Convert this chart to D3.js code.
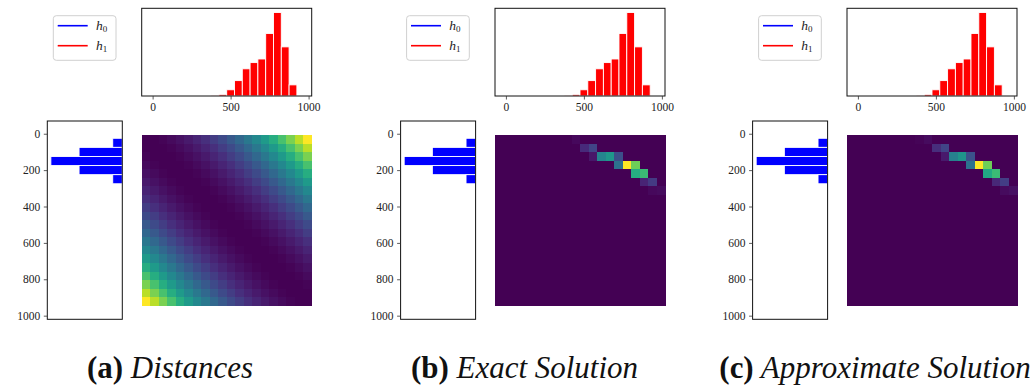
<!DOCTYPE html>
<html>
<head>
<meta charset="utf-8">
<script src="https://cdn.jsdelivr.net/npm/d3@7"></script>
<style>
  body { margin: 0; background: #fff; }
  text { font-family: "Liberation Serif", serif; }
</style>
</head>
<body>
<script>
// bin positions shared by both histograms and the matrices
const bins = [0,50,100,150,200,250,300,350,400,450,500,550,600,650,700,750,800,850,900,950];
// source histogram h0 (blue, left) and target histogram h1 (red, top)
const h0 = [0,0.054,0.244,0.403,0.244,0.054,0,0,0,0,0,0,0,0,0,0,0,0,0,0];
const h1 = [0,0,0,0,0,0,0,0,0.001,0.005,0.019,0.047,0.083,0.102,0.113,0.191,0.255,0.150,0.034,0];
const histTicks = [0,500,1000];
const leftTicks = [0,200,400,600,800,1000];

// (a) squared distances between bins
const distances = [
  [0,1,4,9,16,25,36,49,64,81,100,121,144,169,196,225,256,289,324,361],
  [1,0,1,4,9,16,25,36,49,64,81,100,121,144,169,196,225,256,289,324],
  [4,1,0,1,4,9,16,25,36,49,64,81,100,121,144,169,196,225,256,289],
  [9,4,1,0,1,4,9,16,25,36,49,64,81,100,121,144,169,196,225,256],
  [16,9,4,1,0,1,4,9,16,25,36,49,64,81,100,121,144,169,196,225],
  [25,16,9,4,1,0,1,4,9,16,25,36,49,64,81,100,121,144,169,196],
  [36,25,16,9,4,1,0,1,4,9,16,25,36,49,64,81,100,121,144,169],
  [49,36,25,16,9,4,1,0,1,4,9,16,25,36,49,64,81,100,121,144],
  [64,49,36,25,16,9,4,1,0,1,4,9,16,25,36,49,64,81,100,121],
  [81,64,49,36,25,16,9,4,1,0,1,4,9,16,25,36,49,64,81,100],
  [100,81,64,49,36,25,16,9,4,1,0,1,4,9,16,25,36,49,64,81],
  [121,100,81,64,49,36,25,16,9,4,1,0,1,4,9,16,25,36,49,64],
  [144,121,100,81,64,49,36,25,16,9,4,1,0,1,4,9,16,25,36,49],
  [169,144,121,100,81,64,49,36,25,16,9,4,1,0,1,4,9,16,25,36],
  [196,169,144,121,100,81,64,49,36,25,16,9,4,1,0,1,4,9,16,25],
  [225,196,169,144,121,100,81,64,49,36,25,16,9,4,1,0,1,4,9,16],
  [256,225,196,169,144,121,100,81,64,49,36,25,16,9,4,1,0,1,4,9],
  [289,256,225,196,169,144,121,100,81,64,49,36,25,16,9,4,1,0,1,4],
  [324,289,256,225,196,169,144,121,100,81,64,49,36,25,16,9,4,1,0,1],
  [361,324,289,256,225,196,169,144,121,100,81,64,49,36,25,16,9,4,1,0]
];
// (b) and (c) transport plans, nonzero cells only: [row, col, value]
const exactPlan = [
  [0,9,0.02],[1,10,0.12],[1,11,0.2],[2,11,0.06],[2,12,0.45],[2,13,0.53],[2,14,0.24],
  [3,14,0.37],[3,15,1],[3,16,0.78],[4,16,0.62],[4,17,0.68],[5,17,0.1],[5,18,0.17],
  [6,18,0.02],[6,19,0.03]
];
const approxPlan = [
  [0,8,0.01],[0,9,0.03],[1,10,0.13],[1,11,0.2],[2,11,0.07],[2,12,0.43],[2,13,0.52],[2,14,0.25],
  [3,14,0.37],[3,15,1],[3,16,0.78],[4,16,0.6],[4,17,0.68],[5,17,0.11],[5,18,0.18],
  [6,18,0.03],[6,19,0.04]
];
const captions = [["(a)","Distances"],["(b)","Exact Solution"],["(c)","Approximate Solution"]];

function toMatrix(cells){
  let m = bins.map(()=>bins.map(()=>0));
  cells.forEach(c=>{ m[c[0]][c[1]] = c[2]; });
  return m;
}

const svg = d3.select("body").append("svg").attr("width",1034).attr("height",389);

function panel(dx, matrix, caption){
  let g = svg.append("g");

  // top histogram (h1)
  let xT = d3.scaleLinear().domain([-70,1020]).range([141.7+dx, 311.7+dx]);
  let yT = d3.scaleLinear().domain([0, d3.max(h1)*1.05]).range([96, 8.3]);
  g.selectAll(".tb").data(h1).enter().append("rect")
    .attr("x",(d,i)=>xT(bins[i]-25))
    .attr("width",(d,i)=>xT(bins[i]+25)-xT(bins[i]-25))
    .attr("y",d=>yT(d))
    .attr("height",d=>yT(0)-yT(d))
    .attr("fill","red").attr("stroke","white").attr("stroke-width",0.9);
  g.append("rect").attr("x",141.7+dx).attr("y",8.3).attr("width",170).attr("height",87.7)
    .attr("fill","none").attr("stroke","#111").attr("stroke-width",1);
  let ax = g.append("g").attr("transform","translate(0,96)")
    .call(d3.axisBottom(xT).tickValues(histTicks).tickFormat(d3.format("d"))
      .tickSize(3.5).tickPadding(3.5).tickSizeOuter(0));
  ax.select(".domain").remove();

  // left histogram (h0), bars grow to the left
  let yL = d3.scaleLinear().domain([-70,1020]).range([121, 319.3]);
  let xL = d3.scaleLinear().domain([0, d3.max(h0)*1.05]).range([122.3+dx, 47.3+dx]);
  g.selectAll(".lb").data(h0).enter().append("rect")
    .attr("y",(d,i)=>yL(bins[i]-25))
    .attr("height",(d,i)=>yL(bins[i]+25)-yL(bins[i]-25))
    .attr("x",d=>xL(d))
    .attr("width",d=>xL(0)-xL(d))
    .attr("fill","blue").attr("stroke","white").attr("stroke-width",0.9);
  g.append("rect").attr("x",47.3+dx).attr("y",121).attr("width",75).attr("height",198.3)
    .attr("fill","none").attr("stroke","#111").attr("stroke-width",1);
  let ay = g.append("g").attr("transform","translate("+(47.3+dx)+",0)")
    .call(d3.axisLeft(yL).tickValues(leftTicks).tickFormat(d3.format("d"))
      .tickSize(3.5).tickPadding(3.5).tickSizeOuter(0));
  ay.select(".domain").remove();

  [ax, ay].forEach(a=>{
    a.selectAll("text").attr("font-family","Liberation Serif").attr("font-size",11.5).attr("fill","#222");
    a.selectAll("line").attr("stroke","#333").attr("stroke-width",0.8);
  });

  // legend
  let lg = g.append("g");
  lg.append("rect").attr("x",53.3+dx).attr("y",15.7).attr("width",62.7).attr("height",44.6)
    .attr("rx",3).attr("fill","white").attr("stroke","#d0d0d0").attr("stroke-width",1);
  [["blue","0",25.7],["red","1",45.7]].forEach(e=>{
    lg.append("line").attr("x1",57.7+dx).attr("x2",87.7+dx).attr("y1",e[2]).attr("y2",e[2])
      .attr("stroke",e[0]).attr("stroke-width",1.6);
    let t = lg.append("text").attr("x",96+dx).attr("y",e[2]+4).attr("font-size",13.5).attr("fill","#222");
    t.append("tspan").attr("font-style","italic").text("h");
    t.append("tspan").attr("font-size",9).attr("dy",2.5).text(e[1]);
  });

  // matrix image
  let xH = d3.scaleBand().domain(d3.range(20)).range([141.7+dx, 311.7+dx]);
  let yH = d3.scaleBand().domain(d3.range(20)).range([135, 305.7]);
  let color = d3.scaleSequential(d3.interpolateViridis).domain([0, d3.max(matrix, r=>d3.max(r))]);
  let cells = [];
  matrix.forEach((row,i)=>row.forEach((v,j)=>cells.push({i:i,j:j,v:v})));
  g.append("g").attr("shape-rendering","crispEdges")
    .selectAll("rect").data(cells).enter().append("rect")
    .attr("x",d=>xH(d.j)).attr("y",d=>yH(d.i))
    .attr("width",xH.bandwidth()+0.5).attr("height",yH.bandwidth()+0.5)
    .attr("fill",d=>color(d.v));

  // caption
  let ct = g.append("text").attr("class","cap").attr("x",dx+166).attr("y",378)
    .attr("text-anchor","middle").attr("font-size",28).attr("fill","#111");
  ct.append("tspan").attr("font-weight","bold").text(caption[0]);
  ct.append("tspan").attr("font-style","italic").text(" "+caption[1]);
}

panel(0, distances, captions[0]);
panel(353.3, toMatrix(exactPlan), captions[1]);
panel(705.3, toMatrix(approxPlan), captions[2]);

// fit caption size to the widths in the figure
let caps = svg.selectAll(".cap").nodes();
let widths = [167, 227, 310];
let k = d3.mean(caps, (n,i)=>widths[i]/n.getComputedTextLength());
caps.forEach((n,i)=>{
  d3.select(n).attr("font-size",28*k).attr("x",[170,524.5,875][i]);
});
</script>
</body>
</html>
